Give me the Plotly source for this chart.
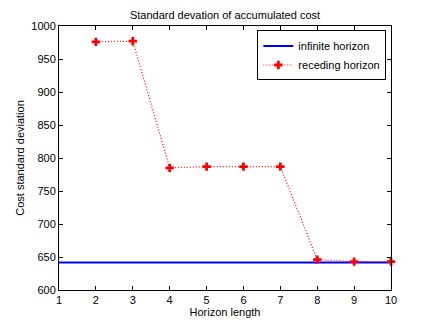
import plotly.graph_objects as go

horizon = [2, 3, 4, 5, 6, 7, 8, 9, 10]
receding_std = [976, 977, 785, 787, 787, 787, 646, 643, 643]
infinite_x = [1, 10]
infinite_std = [641.5, 641.5]

fig = go.Figure()
fig.add_trace(go.Scatter(x=infinite_x, y=infinite_std, mode='lines', name='infinite horizon',
                         line=dict(color='blue', width=2)))
fig.add_trace(go.Scatter(x=horizon, y=receding_std, mode='lines+markers', name='receding horizon',
                         line=dict(color='red', width=1.2, dash='1px,2px'), cliponaxis=False,
                         marker=dict(symbol='cross', size=7, color='red', line=dict(width=0))))

axis_style = dict(showline=True, linecolor='black', linewidth=1, mirror='ticks', ticks='inside',
                  ticklen=4, tickcolor='black', showgrid=False, zeroline=False,
                  tickfont=dict(size=11, color='black'))
fig.update_xaxes(range=[1, 10], dtick=1, title=dict(text='Horizon length', font=dict(size=11), standoff=2),
                 **axis_style)
fig.update_yaxes(range=[600, 1000], dtick=50, title=dict(text='Cost standard deviation', font=dict(size=11), standoff=4),
                 **axis_style)

# page adds a small body margin, so margins are shifted up/left to compensate
fig.update_layout(
    width=434, height=326,
    margin=dict(l=47, r=51, t=16, b=44),
    paper_bgcolor='white', plot_bgcolor='white',
    font=dict(family='Liberation Sans, Arial, sans-serif', size=11, color='black'),
    title=dict(text='Standard devation of accumulated cost', x=0.5, xref='paper', xanchor='center',
               y=1, yref='container', yanchor='top', pad=dict(t=3, b=0),
               font=dict(size=11)),
    showlegend=True,
    legend=dict(x=0.986, y=0.983, xanchor='right', yanchor='top', bordercolor='black', borderwidth=1,
                bgcolor='white', font=dict(size=11), tracegroupgap=0),
)

fig.write_html("out.html")
